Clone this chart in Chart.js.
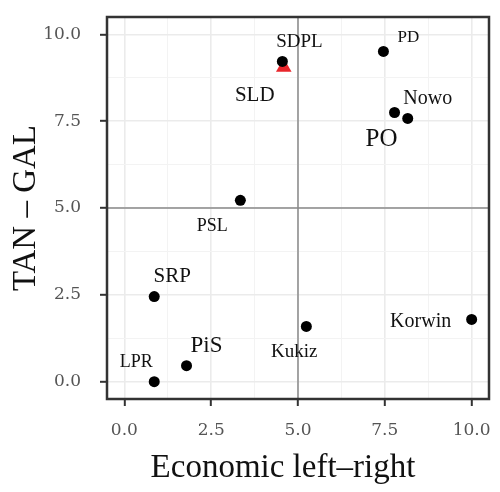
<!DOCTYPE html>
<html lang="en">
<head>
    <meta charset="UTF-8">
    <title>TAN - GAL vs Economic left-right</title>
    <script src="https://cdn.jsdelivr.net/npm/chart.js"></script>
    <style>
        html, body {
            margin: 0;
            padding: 0;
            background: #ffffff;
        }
        .chart-container {
            position: relative;
            width: 500px;
            height: 492px;
        }
    </style>
</head>
<body>
    <div class="chart-container">
        <canvas id="partyChart"></canvas>
    </div>

    <script>
        // party positions
        const parties = ['SDPL', 'PD', 'Nowo', 'PO', 'PSL', 'SRP', 'PiS', 'LPR', 'Kukiz', 'Korwin'];
        const economic = [4.55, 7.46, 8.16, 7.78, 3.34, 0.86, 1.79, 0.86, 5.24, 10.0];
        const tanGal = [9.22, 9.51, 7.58, 7.75, 5.22, 2.45, 0.46, 0.0, 1.59, 1.79];

        // SLD is drawn as the red triangle
        const highlighted = ['SLD'];
        const highlightedEconomic = [4.59];
        const highlightedTanGal = [9.05];

        const majorTicks = [0, 2.5, 5, 7.5, 10];
        const minorTicks = [1.25, 3.75, 6.25, 8.75];

        const xTitle = 'Economic left\u2013right';
        const yTitle = 'TAN \u2013 GAL';

        // label look: font size and offset from the point (px)
        const labelStyle = {
            SDPL:   { size: 19, dx: 17,  dy: -14 },
            PD:     { size: 17, dx: 25,  dy: -9 },
            Nowo:   { size: 20, dx: 20,  dy: -14 },
            PO:     { size: 25, dx: -13, dy: 33 },
            PSL:    { size: 18, dx: -28, dy: 31 },
            SRP:    { size: 21, dx: 18,  dy: -15 },
            PiS:    { size: 23, dx: 20,  dy: -14 },
            LPR:    { size: 18, dx: -18, dy: -15 },
            Kukiz:  { size: 19, dx: -12, dy: 31 },
            Korwin: { size: 20, dx: -51, dy: 8 },
            SLD:    { size: 21, dx: -29, dy: 34 }
        };

        const gridValues = majorTicks.concat(minorTicks).sort((a, b) => a - b);
        const isMajor = v => majorTicks.some(m => Math.abs(m - v) < 1e-9);

        const axisConfig = (fitSide, fitSize) => ({
            type: 'linear',
            min: -0.5,
            max: 10.5,
            afterBuildTicks: scale => {
                scale.ticks = gridValues.map(v => ({ value: v }));
            },
            afterFit: scale => {
                scale[fitSide] = fitSize;
                scale.paddingTop = 0;
                scale.paddingBottom = 0;
                scale.paddingLeft = 0;
                scale.paddingRight = 0;
            },
            ticks: {
                autoSkip: false,
                maxRotation: 0,
                color: '#555',
                padding: fitSide === 'width' ? 19 : 14,
                font: { family: 'DejaVu Serif', size: 17 },
                callback: value => isMajor(value) ? value.toFixed(1) : ''
            },
            grid: {
                color: ctx => isMajor(ctx.tick.value) ? '#ebebeb' : '#f3f3f3',
                lineWidth: ctx => isMajor(ctx.tick.value) ? 1.6 : 1,
                tickColor: ctx => isMajor(ctx.tick.value) ? '#333333' : 'rgba(0,0,0,0)',
                tickLength: 7,
                tickWidth: 2
            },
            border: { display: false }
        });

        const panelPlugin = {
            id: 'panel',
            beforeDatasetsDraw(chart) {
                const { ctx, chartArea, scales } = chart;
                const x5 = scales.x.getPixelForValue(5);
                const y5 = scales.y.getPixelForValue(5);
                ctx.save();
                ctx.strokeStyle = '#8a8a8a';
                ctx.lineWidth = 1.5;
                ctx.beginPath();
                ctx.moveTo(x5, chartArea.top);
                ctx.lineTo(x5, chartArea.bottom);
                ctx.moveTo(chartArea.left, y5);
                ctx.lineTo(chartArea.right, y5);
                ctx.stroke();
                ctx.restore();
            },
            afterDatasetsDraw(chart) {
                const { ctx, chartArea } = chart;
                ctx.save();
                ctx.fillStyle = '#111';
                ctx.textAlign = 'center';
                ctx.textBaseline = 'alphabetic';
                chart.data.datasets.forEach((ds, i) => {
                    chart.getDatasetMeta(i).data.forEach((pt, j) => {
                        const name = ds.names[j];
                        const st = labelStyle[name];
                        ctx.font = st.size + 'px "Liberation Serif"';
                        ctx.fillText(name, pt.x + st.dx, pt.y + st.dy);
                    });
                });

                // panel border
                ctx.strokeStyle = '#333333';
                ctx.lineWidth = 2.5;
                ctx.strokeRect(chartArea.left, chartArea.top,
                    chartArea.right - chartArea.left, chartArea.bottom - chartArea.top);

                // axis titles
                ctx.fillStyle = '#111';
                ctx.font = '33px "Liberation Serif"';
                const cx = (chartArea.left + chartArea.right) / 2 - 15;
                ctx.fillText(xTitle, cx, 477);
                ctx.translate(35, (chartArea.top + chartArea.bottom) / 2);
                ctx.rotate(-Math.PI / 2);
                ctx.fillText(yTitle, 0, 0);
                ctx.restore();
            }
        };

        const partyChart = new Chart(document.getElementById('partyChart'), {
            type: 'scatter',
            data: {
                datasets: [{
                    label: 'Parties',
                    names: parties,
                    data: economic.map((x, i) => ({ x: x, y: tanGal[i] })),
                    backgroundColor: '#000000',
                    borderWidth: 0,
                    pointRadius: 5.5,
                    pointHoverRadius: 5.5
                }, {
                    label: 'SLD',
                    names: highlighted,
                    data: highlightedEconomic.map((x, i) => ({ x: x, y: highlightedTanGal[i] })),
                    backgroundColor: '#e8262b',
                    borderWidth: 0,
                    pointStyle: 'triangle',
                    pointRadius: 9,
                    pointHoverRadius: 9
                }]
            },
            options: {
                responsive: true,
                maintainAspectRatio: false,
                animation: false,
                layout: {
                    padding: { left: 0, right: 11, top: 17, bottom: 0 }
                },
                plugins: {
                    legend: { display: false },
                    tooltip: { enabled: false }
                },
                scales: {
                    x: axisConfig('height', 93),
                    y: axisConfig('width', 107)
                }
            },
            plugins: [panelPlugin]
        });
    </script>
</body>
</html>
